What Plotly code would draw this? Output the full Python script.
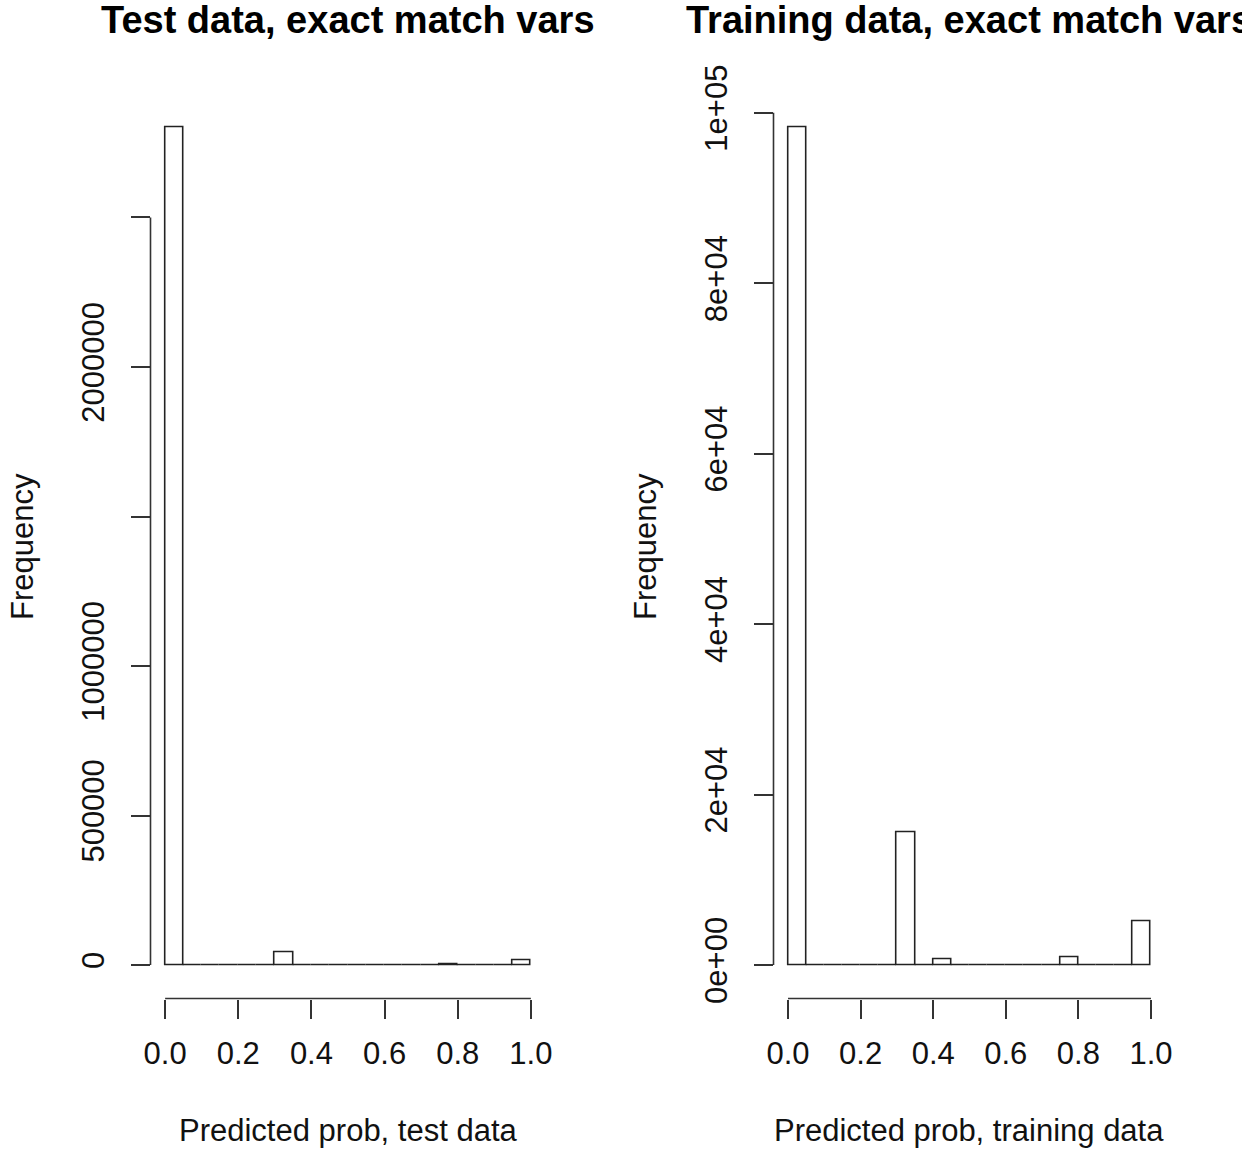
import plotly.graph_objects as go

# ---- data ----
bin_edges = [round(0.05 * i, 2) for i in range(21)]
test_counts = [2800000, 0, 0, 0, 0, 0, 43500, 0, 0, 0,
               0, 0, 0, 0, 0, 3000, 0, 0, 0, 17000]
train_counts = [98240, 0, 0, 0, 0, 0, 15610, 0, 700, 0,
                0, 0, 0, 0, 0, 940, 0, 0, 0, 5160]

x_tickvals = [0.0, 0.2, 0.4, 0.6, 0.8, 1.0]
x_ticktext = ["0.0", "0.2", "0.4", "0.6", "0.8", "1.0"]
test_yticks = [0, 500000, 1000000, 1500000, 2000000, 2500000]
test_yticktext = ["0", "500000", "1000000", "", "2000000", ""]
train_yticks = [0, 20000, 40000, 60000, 80000, 100000]
train_yticktext = ["0e+00", "2e+04", "4e+04", "6e+04", "8e+04", "1e+05"]

titles = ["Test data, exact match vars", "Training data, exact match vars"]
xtitles = ["Predicted prob, test data", "Predicted prob, training data"]

# ---- figure ----
W, H = 1242, 1150
FONT = "Liberation Sans, Arial, Helvetica, sans-serif"
LINE = "#333333"
TXT = 31

centers = [(bin_edges[i] + bin_edges[i + 1]) / 2 for i in range(len(bin_edges) - 1)]
widths = [bin_edges[i + 1] - bin_edges[i] for i in range(len(bin_edges) - 1)]

fig = go.Figure()
fig.add_trace(go.Bar(x=centers, y=test_counts, width=widths, xaxis="x", yaxis="y",
                     marker=dict(color="white", line=dict(color="#222222", width=1.6)),
                     hoverinfo="skip"))
fig.add_trace(go.Bar(x=centers, y=train_counts, width=widths, xaxis="x2", yaxis="y2",
                     marker=dict(color="white", line=dict(color="#222222", width=1.6)),
                     hoverinfo="skip"))

def px_x(p):
    return p / W

def px_y(p):
    return 1 - p / H

ydom = [px_y(998.5), px_y(94.3)]
xdom1 = [px_x(150.5), px_x(545.5)]
xdom2 = [px_x(773.5), px_x(1165.5)]

xmin, xmax = bin_edges[0], bin_edges[-1]
xr = [xmin - 0.04 * (xmax - xmin), xmax + 0.04 * (xmax - xmin)]

def yr(counts):
    m = max(counts)
    return [-0.04 * m, 1.04 * m]

common_x = dict(range=xr, showgrid=False, zeroline=False, showline=False,
                tickvals=x_tickvals, ticktext=x_ticktext, ticks="outside",
                ticklen=19, tickwidth=1.6, tickcolor=LINE, automargin=False,
                tickfont=dict(family=FONT, size=TXT, color="#111111"),
                ticklabelstandoff=8, fixedrange=True)
common_y = dict(showgrid=False, zeroline=False, showline=False, ticks="outside",
                ticklen=19, tickwidth=1.6, tickcolor=LINE, tickangle=-90, automargin=False,
                tickfont=dict(family=FONT, size=TXT, color="#111111"),
                ticklabelstandoff=14, fixedrange=True)

fig.update_layout(
    width=W, height=H, margin=dict(l=0, r=0, t=0, b=0, pad=0, autoexpand=False),
    autosize=False,
    paper_bgcolor="white", plot_bgcolor="white", showlegend=False,
    bargap=0, hovermode=False,
    xaxis=dict(domain=xdom1, anchor="y", **common_x),
    yaxis=dict(domain=ydom, anchor="x", range=yr(test_counts),
               tickvals=test_yticks, ticktext=test_yticktext, **common_y),
    xaxis2=dict(domain=xdom2, anchor="y2", **common_x),
    yaxis2=dict(domain=ydom, anchor="x2", range=yr(train_counts),
                tickvals=train_yticks, ticktext=train_yticktext, **common_y),
)

# R-style detached axis lines spanning the tick extents
shapes = []
for xa, ya, yt in [("x", "y", test_yticks), ("x2", "y2", train_yticks)]:
    shapes.append(dict(type="line", xref=xa, yref=ya + " domain",
                       x0=x_tickvals[0], x1=x_tickvals[-1], y0=0, y1=0,
                       line=dict(color=LINE, width=1.6)))
    shapes.append(dict(type="line", xref=xa + " domain", yref=ya,
                       x0=0, x1=0, y0=yt[0], y1=yt[-1],
                       line=dict(color=LINE, width=1.6)))
fig.update_layout(shapes=shapes)

annots = []
for dom, t, xt, fx in [(xdom1, titles[0], xtitles[0], 22), (xdom2, titles[1], xtitles[1], 645)]:
    cx = (dom[0] + dom[1]) / 2
    annots.append(dict(text="<b>" + t + "</b>", x=cx, y=px_y(20), xref="paper", yref="paper",
                       xanchor="center", yanchor="middle", showarrow=False,
                       font=dict(family=FONT, size=38, color="#000000")))
    annots.append(dict(text=xt, x=cx, y=px_y(1130), xref="paper", yref="paper",
                       xanchor="center", yanchor="middle", showarrow=False,
                       font=dict(family=FONT, size=TXT, color="#111111")))
    annots.append(dict(text="Frequency", x=px_x(fx), y=px_y(547), xref="paper", yref="paper",
                       xanchor="center", yanchor="middle", showarrow=False, textangle=-90,
                       font=dict(family=FONT, size=TXT, color="#111111")))
fig.update_layout(annotations=annots)

fig.write_html("out.html", config={"responsive": False, "displayModeBar": False})
